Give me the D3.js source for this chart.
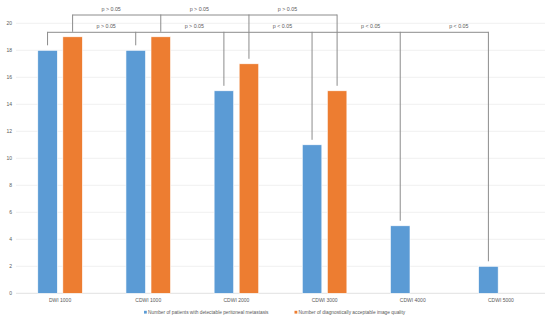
<!DOCTYPE html>
<html>
<head>
<meta charset="utf-8">
<script src="https://cdn.jsdelivr.net/npm/d3@7"></script>
<style>
  html, body { margin: 0; padding: 0; background: #fff; }
  svg text { font-family: "Liberation Sans", "DejaVu Sans", sans-serif; fill: #595959; }
</style>
</head>
<body>
<div id="chart"></div>
<script>
// data
const categories = ["DWI 1000", "CDWI 1000", "CDWI 2000", "CDWI 3000", "CDWI 4000", "CDWI 5000"];
const seriesNames = ["Number of patients with detectable peritoneal metastasis",
                     "Number of diagnostically acceptable image quality"];
const patients = [18, 18, 15, 11, 5, 2];
const quality = [19, 19, 17, 15, 0, 0];
const yTicks = [0, 2, 4, 6, 8, 10, 12, 14, 16, 18, 20];

// comparison brackets: which series, which categories, p labels between neighbours
const topBracketCats = [0, 1, 2, 3];
const topBracketLabels = ["p > 0.05", "p > 0.05", "p > 0.05"];
const lowBracketCats = [0, 1, 2, 3, 4, 5];
const lowBracketLabels = ["p > 0.05", "p > 0.05", "p < 0.05", "p < 0.05", "p < 0.05"];

const width = 550, height = 322;
const colors = ["#5b9bd5", "#ed7d31"];

const svg = d3.select("#chart").append("svg")
  .attr("width", width)
  .attr("height", height);

const x0 = d3.scaleBand().domain(d3.range(categories.length)).range([16, 545]);
const x1 = d3.scaleBand().domain([0, 1]).range([0, x0.bandwidth()])
  .paddingInner(0.22).paddingOuter(0.87);
const y = d3.scaleLinear().domain([0, 20]).range([293.3, 23.3]);

// gridlines
svg.append("g")
  .selectAll("line")
  .data(yTicks)
  .join("line")
  .attr("x1", 16).attr("x2", 545)
  .attr("y1", d => y(d)).attr("y2", d => y(d))
  .attr("stroke", d => d === 0 ? "#d9d9d9" : "#ececec")
  .attr("stroke-width", 0.8);

// y tick labels
svg.append("g")
  .selectAll("text")
  .data(yTicks)
  .join("text")
  .attr("x", 12).attr("y", d => y(d) + 1.7)
  .attr("text-anchor", "end")
  .attr("font-size", 5)
  .text(d => d);

// bars
const values = [patients, quality];
const rows = [];
categories.forEach((c, i) => {
  values.forEach((vals, s) => {
    if (vals[i] > 0) rows.push({ i, s, v: vals[i] });
  });
});

svg.append("g")
  .selectAll("rect")
  .data(rows)
  .join("rect")
  .attr("x", d => x0(d.i) + x1(d.s))
  .attr("y", d => y(d.v))
  .attr("width", x1.bandwidth())
  .attr("height", d => y(0) - y(d.v))
  .attr("fill", d => colors[d.s])
  .attr("stroke", "#fff")
  .attr("stroke-width", 0.6);

// category labels
svg.append("g")
  .selectAll("text")
  .data(categories)
  .join("text")
  .attr("x", (d, i) => x0(i) + x0.bandwidth() / 2)
  .attr("y", 301.5)
  .attr("text-anchor", "middle")
  .attr("font-size", 5)
  .text(d => d);

// brackets
const barCenter = (i, s) => x0(i) + x1(s) + x1.bandwidth() / 2;
const catCenter = i => x0(i) + x0.bandwidth() / 2;

function drawBracket(cats, labels, s, lineY, labelY, shift) {
  const g = svg.append("g");
  const xs = cats.map(i => barCenter(i, s));
  g.append("line")
    .attr("x1", d3.min(xs)).attr("x2", d3.max(xs))
    .attr("y1", lineY).attr("y2", lineY)
    .attr("stroke", "#8c8c8c").attr("stroke-width", 1);
  g.selectAll("line.drop")
    .data(cats)
    .join("line")
    .attr("class", "drop")
    .attr("x1", i => barCenter(i, s)).attr("x2", i => barCenter(i, s))
    .attr("y1", lineY - 0.5)
    .attr("y2", i => y(values[s][i]) - 5)
    .attr("stroke", "#8c8c8c").attr("stroke-width", 1);
  g.selectAll("text")
    .data(labels)
    .join("text")
    .attr("x", (d, k) => (catCenter(cats[k]) + catCenter(cats[k + 1])) / 2 + shift)
    .attr("y", labelY)
    .attr("text-anchor", "middle")
    .attr("font-size", 5.3)
    .attr("fill", "#404040")
    .text(d => d);
}

drawBracket(lowBracketCats, lowBracketLabels, 0, 32.3, 27.8, 2);
drawBracket(topBracketCats, topBracketLabels, 1, 15, 10.8, 7);

// legend
const legend = svg.append("g");
const legendX = [144, 294.5];
seriesNames.forEach((name, s) => {
  legend.append("rect")
    .attr("x", legendX[s]).attr("y", 310.8)
    .attr("width", 2.8).attr("height", 2.8)
    .attr("fill", colors[s]);
  legend.append("text")
    .attr("x", legendX[s] + 4).attr("y", 313.9)
    .attr("font-size", 4.8)
    .text(name);
});
</script>
</body>
</html>
